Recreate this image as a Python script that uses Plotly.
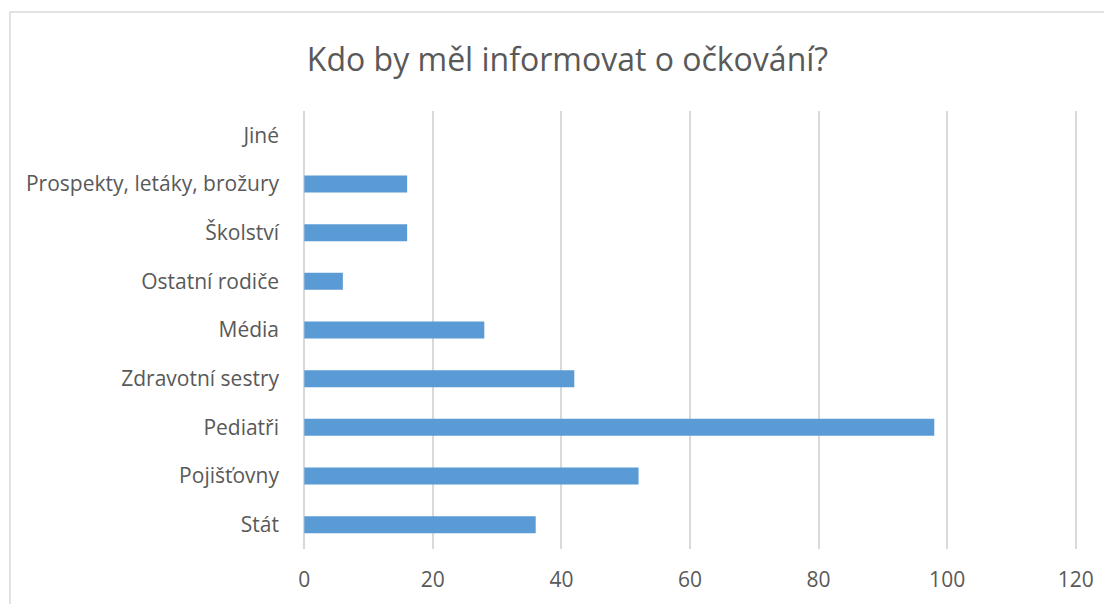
import plotly.graph_objects as go

# data
categories = ['Stát', 'Pojišťovny', 'Pediatři', 'Zdravotní sestry', 'Média',
              'Ostatní rodiče', 'Školství', 'Prospekty, letáky, brožury', 'Jiné']
values = [36, 52, 98, 42, 28, 6, 16, 16, 0]
x_ticks = [0, 20, 40, 60, 80, 100, 120]

title_text = 'Kdo by měl informovat o očkování?'
font_name = 'Open Sans'
text_grey = '#595959'
bar_blue = '#5b9bd5'

# page has an 8px body margin, so the figure is 8px smaller than the window
W, H = 1104, 596

fig = go.Figure()
fig.add_trace(go.Bar(y=categories, x=values, orientation='h',
                     marker=dict(color=bar_blue, line=dict(width=0))))

fig.update_layout(
    width=W, height=H,
    margin=dict(l=295, r=35, t=103, b=55),
    paper_bgcolor='white', plot_bgcolor='white',
    font=dict(family=font_name, color=text_grey, size=21),
    title=dict(text=title_text, x=559.5 / W, xanchor='center', y=1 - 52 / H, yanchor='middle',
               font=dict(size=32, color=text_grey, family=font_name)),
    bargap=0.65,
    showlegend=False,
)
# range a hair past 0 and 120 so the edge gridlines are still drawn
fig.update_xaxes(range=[-0.2, 120.2], tickvals=x_ticks, showgrid=True, gridcolor='#d9d9d9',
                 gridwidth=1.5, zeroline=False, showline=False, ticklabelstandoff=16,
                 tickfont=dict(size=21, color=text_grey))
fig.update_yaxes(categoryorder='array', categoryarray=categories, showgrid=False,
                 zeroline=False, showline=False, ticklabelstandoff=23,
                 tickfont=dict(size=21, color=text_grey))

# light frame round the whole chart, like the spreadsheet chart area
fig.add_shape(type='rect', xref='paper', yref='paper', x0=-293 / 774, x1=1.1, y0=-0.3, y1=1 + 99 / 438,
              line=dict(color='#d9d9d9', width=1.5), fillcolor='rgba(0,0,0,0)', layer='below')

fig.write_html('out.html')
